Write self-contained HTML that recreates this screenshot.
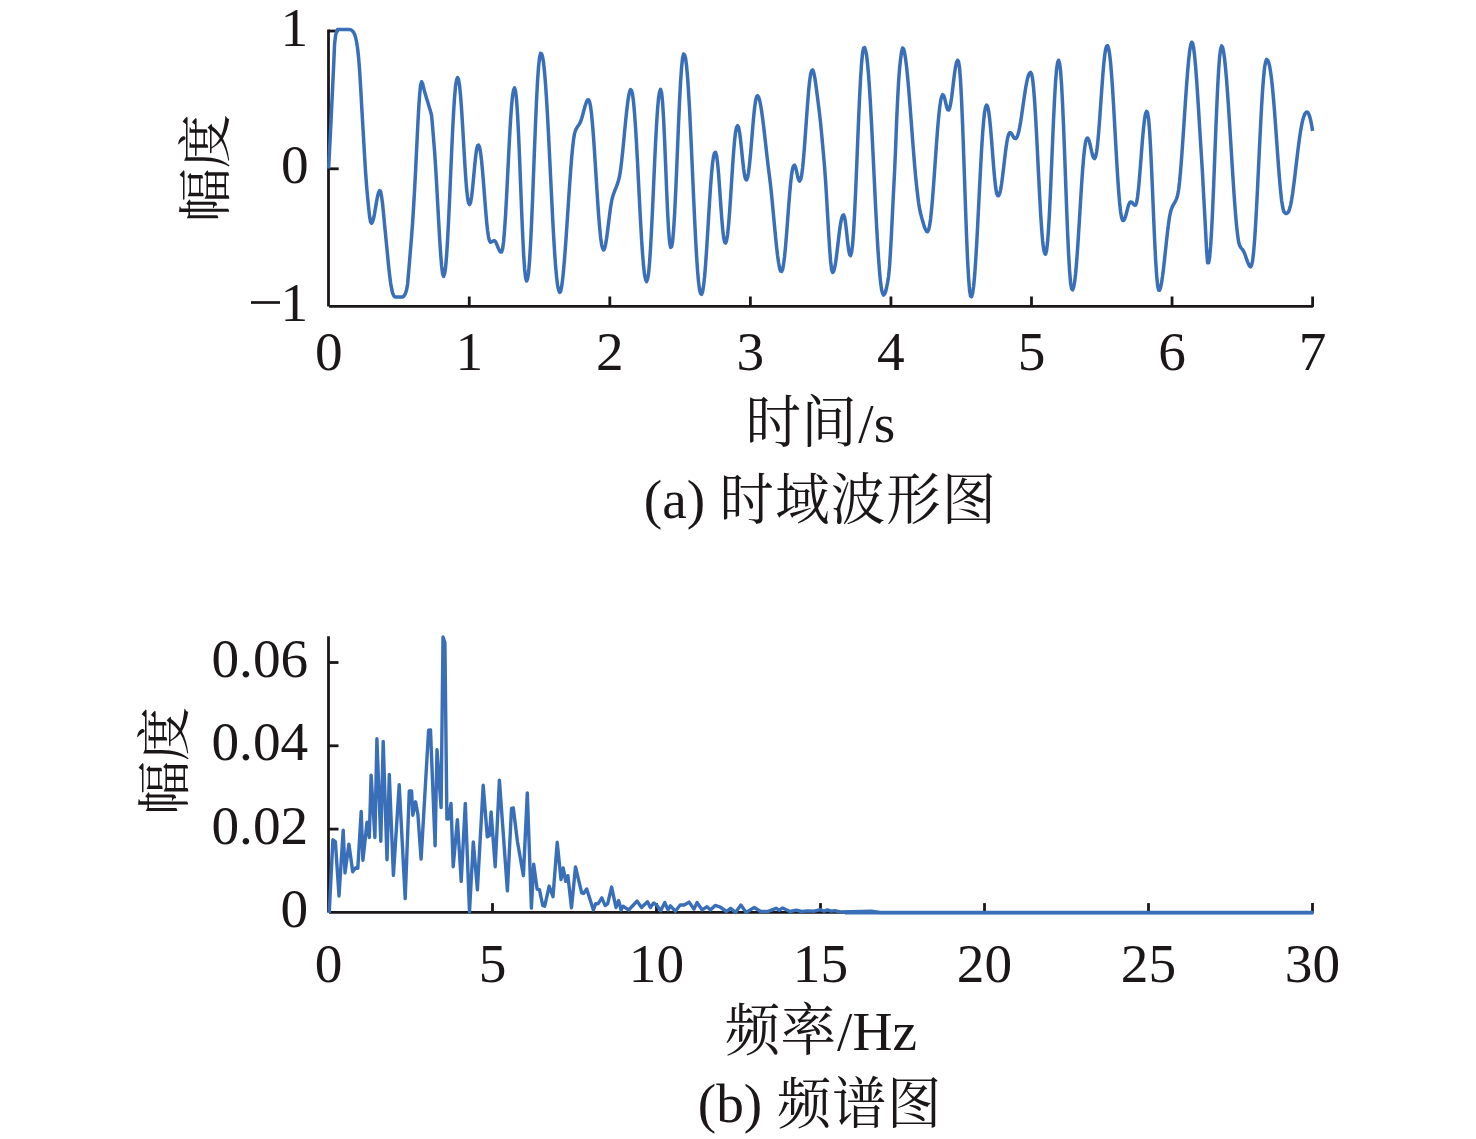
<!DOCTYPE html>
<html><head><meta charset="utf-8"><title>chart</title>
<style>
html,body{margin:0;padding:0;background:#fff;}
svg{display:block;}
text{font-family:"Liberation Serif","Noto Serif CJK SC",serif;fill:#1b1718;}
</style></head>
<body>
<svg width="1476" height="1139" viewBox="0 0 1476 1139">
<rect width="1476" height="1139" fill="#ffffff"/>
<path d="M328.5,29.60 V306.60" fill="none" stroke="#1b1718" stroke-width="2.8"/>
<path d="M329.1,306.40 H1312.6 V296.50" fill="none" stroke="#1b1718" stroke-width="2.8" stroke-linejoin="bevel"/>
<path d="M469.26,306.5 v-10.0" stroke="#1b1718" stroke-width="2.8"/>
<path d="M609.81,306.5 v-10.0" stroke="#1b1718" stroke-width="2.8"/>
<path d="M750.37,306.5 v-10.0" stroke="#1b1718" stroke-width="2.8"/>
<path d="M890.93,306.5 v-10.0" stroke="#1b1718" stroke-width="2.8"/>
<path d="M1031.49,306.5 v-10.0" stroke="#1b1718" stroke-width="2.8"/>
<path d="M1172.04,306.5 v-10.0" stroke="#1b1718" stroke-width="2.8"/>
<path d="M328.7,31.0 h10.0" stroke="#1b1718" stroke-width="2.8"/>
<path d="M328.7,168.8 h10.0" stroke="#1b1718" stroke-width="2.8"/>
<text transform="translate(328.70,370.20) scale(1,1.012)" text-anchor="middle" font-size="55.3">0</text>
<text transform="translate(469.26,370.20) scale(1,1.012)" text-anchor="middle" font-size="55.3">1</text>
<text transform="translate(609.81,370.20) scale(1,1.012)" text-anchor="middle" font-size="55.3">2</text>
<text transform="translate(750.37,370.20) scale(1,1.012)" text-anchor="middle" font-size="55.3">3</text>
<text transform="translate(890.93,370.20) scale(1,1.012)" text-anchor="middle" font-size="55.3">4</text>
<text transform="translate(1031.49,370.20) scale(1,1.012)" text-anchor="middle" font-size="55.3">5</text>
<text transform="translate(1172.04,370.20) scale(1,1.012)" text-anchor="middle" font-size="55.3">6</text>
<text transform="translate(1312.60,370.20) scale(1,1.012)" text-anchor="middle" font-size="55.3">7</text>
<text transform="translate(308.20,46.00) scale(1,1.012)" text-anchor="end" font-size="55.3">1</text>
<text transform="translate(308.70,183.10) scale(1,1.012)" text-anchor="end" font-size="55.3">0</text>
<text transform="translate(308.20,320.90) scale(1,1.012)" text-anchor="end" font-size="55.3">1</text>
<rect x="251.0" y="301.15" width="29.0" height="2.7" fill="#1b1718"/>
<path d="M328.6,168.5 L329.6,149.1 L330.6,129.1 L331.6,108.6 L332.6,87.7 L333.6,66.4 L334.6,43.7 L335.6,35.2 L336.6,31.6 L337.6,29.6 L338.6,29.5 L339.6,29.5 L340.6,29.5 L341.6,29.5 L342.6,29.5 L343.6,29.5 L344.6,29.5 L345.6,29.5 L346.6,29.5 L347.6,29.5 L348.6,29.5 L349.6,29.6 L350.6,29.8 L351.6,30.3 L352.6,31.1 L353.6,32.3 L354.6,34.4 L355.6,37.5 L356.6,42.1 L357.6,48.5 L358.6,57.8 L359.6,70.4 L360.6,86.7 L361.6,104.6 L362.6,122.0 L363.6,138.9 L364.6,156.4 L365.6,172.7 L366.6,185.8 L367.6,196.9 L368.6,207.6 L369.6,216.4 L370.6,222.1 L371.6,223.2 L372.6,221.7 L373.6,218.3 L374.6,213.3 L375.6,207.4 L376.6,201.4 L377.6,196.2 L378.6,192.5 L379.6,190.7 L380.6,191.3 L381.6,196.7 L382.6,203.9 L383.6,214.4 L384.6,225.2 L385.6,235.2 L386.6,245.3 L387.6,255.6 L388.6,266.0 L389.6,275.0 L390.6,282.7 L391.6,288.5 L392.6,293.0 L393.6,295.4 L394.6,296.8 L395.6,297.1 L396.6,297.1 L397.6,297.1 L398.6,297.1 L399.6,297.1 L400.6,297.1 L401.6,297.1 L402.6,297.1 L403.6,296.4 L404.6,295.0 L405.6,293.1 L406.6,289.8 L407.6,284.0 L408.6,272.5 L409.6,260.7 L410.6,248.3 L411.6,236.1 L412.6,222.7 L413.6,206.6 L414.6,189.7 L415.6,170.4 L416.6,149.6 L417.6,129.0 L418.6,110.3 L419.6,95.1 L420.6,85.0 L421.6,81.7 L422.6,83.6 L423.6,87.6 L424.6,91.8 L425.6,95.1 L426.6,98.4 L427.6,101.6 L428.6,104.9 L429.6,108.2 L430.6,111.6 L431.6,115.5 L432.6,126.8 L433.6,139.3 L434.6,151.7 L435.6,166.5 L436.6,183.6 L437.6,201.9 L438.6,220.4 L439.6,237.9 L440.6,253.4 L441.6,265.7 L442.6,273.7 L443.6,276.4 L444.6,273.7 L445.6,267.2 L446.6,255.6 L447.6,239.6 L448.6,220.3 L449.6,198.5 L450.6,175.5 L451.6,152.5 L452.6,131.0 L453.6,112.1 L454.6,96.6 L455.6,85.5 L456.6,79.7 L457.6,77.5 L458.6,79.8 L459.6,85.9 L460.6,96.1 L461.6,109.7 L462.6,125.8 L463.6,143.0 L464.6,160.2 L465.6,175.8 L466.6,188.8 L467.6,198.1 L468.6,203.1 L469.6,204.6 L470.6,202.5 L471.6,196.8 L472.6,188.1 L473.6,177.5 L474.6,166.5 L475.6,156.7 L476.6,149.5 L477.6,145.6 L478.6,145.1 L479.6,147.3 L480.6,152.8 L481.6,161.1 L482.6,171.7 L483.6,184.0 L484.6,196.9 L485.6,209.7 L486.6,221.3 L487.6,230.7 L488.6,237.6 L489.6,241.1 L490.6,242.2 L491.6,241.9 L492.6,241.2 L493.6,240.7 L494.6,240.8 L495.6,241.8 L496.6,243.8 L497.6,246.3 L498.6,248.8 L499.6,250.9 L500.6,252.1 L501.6,252.1 L502.6,248.9 L503.6,241.4 L504.6,229.7 L505.6,214.4 L506.6,196.1 L507.6,176.2 L508.6,156.0 L509.6,136.7 L510.6,119.5 L511.6,105.3 L512.6,95.2 L513.6,89.8 L514.6,87.9 L515.6,91.3 L516.6,100.4 L517.6,115.3 L518.6,135.3 L519.6,158.9 L520.6,184.6 L521.6,210.2 L522.6,233.8 L523.6,253.8 L524.6,268.7 L525.6,277.7 L526.6,281.0 L527.6,278.7 L528.6,272.4 L529.6,260.1 L530.6,243.0 L531.6,222.1 L532.6,198.1 L533.6,172.3 L534.6,146.3 L535.6,121.5 L536.6,99.0 L537.6,80.2 L538.6,66.2 L539.6,57.2 L540.6,53.2 L541.6,53.7 L542.6,57.1 L543.6,63.0 L544.6,72.8 L545.6,85.1 L546.6,100.2 L547.6,117.5 L548.6,136.4 L549.6,156.6 L550.6,177.2 L551.6,197.7 L552.6,217.3 L553.6,235.8 L554.6,252.0 L555.6,266.2 L556.6,277.1 L557.6,285.6 L558.6,289.9 L559.6,292.4 L560.6,291.4 L561.6,287.0 L562.6,279.6 L563.6,269.8 L564.6,258.0 L565.6,244.6 L566.6,230.2 L567.6,215.2 L568.6,200.0 L569.6,185.2 L570.6,171.3 L571.6,158.6 L572.6,147.7 L573.6,139.1 L574.6,133.2 L575.6,130.2 L576.6,128.2 L577.6,126.6 L578.6,125.2 L579.6,123.6 L580.6,121.6 L581.6,118.7 L582.6,115.3 L583.6,111.5 L584.6,107.7 L585.6,104.3 L586.6,101.6 L587.6,99.9 L588.6,99.7 L589.6,101.9 L590.6,106.7 L591.6,114.6 L592.6,125.5 L593.6,138.4 L594.6,153.1 L595.6,168.9 L596.6,184.9 L597.6,200.4 L598.6,214.8 L599.6,227.2 L600.6,237.2 L601.6,244.6 L602.6,248.4 L603.6,250.0 L604.6,248.5 L605.6,244.3 L606.6,238.2 L607.6,230.8 L608.6,222.7 L609.6,214.6 L610.6,207.2 L611.6,201.2 L612.6,197.0 L613.6,193.8 L614.6,191.1 L615.6,188.6 L616.6,186.2 L617.6,183.4 L618.6,180.1 L619.6,175.9 L620.6,169.6 L621.6,161.6 L622.6,152.2 L623.6,142.1 L624.6,131.6 L625.6,121.3 L626.6,111.7 L627.6,103.2 L628.6,96.3 L629.6,91.6 L630.6,89.5 L631.6,90.7 L632.6,94.5 L633.6,102.7 L634.6,113.8 L635.6,128.3 L636.6,145.2 L637.6,163.8 L638.6,183.6 L639.6,203.3 L640.6,222.1 L641.6,239.6 L642.6,254.5 L643.6,266.3 L644.6,275.2 L645.6,279.7 L646.6,281.6 L647.6,279.2 L648.6,273.3 L649.6,262.2 L650.6,246.9 L651.6,228.5 L652.6,207.6 L653.6,185.3 L654.6,163.1 L655.6,142.2 L656.6,123.8 L657.6,108.6 L658.6,97.6 L659.6,91.7 L660.6,89.4 L661.6,92.7 L662.6,102.6 L663.6,118.9 L664.6,140.3 L665.6,164.6 L666.6,189.3 L667.6,211.9 L668.6,230.1 L669.6,242.4 L670.6,247.4 L671.6,246.6 L672.6,241.4 L673.6,230.0 L674.6,213.8 L675.6,193.7 L676.6,170.8 L677.6,146.5 L678.6,122.3 L679.6,100.2 L680.6,81.4 L681.6,67.1 L682.6,57.8 L683.6,54.0 L684.6,54.8 L685.6,58.6 L686.6,66.3 L687.6,77.7 L688.6,92.8 L689.6,110.4 L690.6,130.7 L691.6,152.3 L692.6,174.8 L693.6,197.4 L694.6,218.9 L695.6,239.1 L696.6,256.5 L697.6,271.3 L698.6,282.6 L699.6,289.9 L700.6,293.6 L701.6,294.3 L702.6,291.6 L703.6,285.6 L704.6,276.5 L705.6,264.3 L706.6,249.7 L707.6,233.8 L708.6,217.2 L709.6,201.0 L710.6,186.0 L711.6,173.2 L712.6,163.1 L713.6,156.0 L714.6,152.9 L715.6,152.4 L716.6,155.6 L717.6,163.2 L718.6,174.2 L719.6,187.8 L720.6,202.4 L721.6,216.5 L722.6,228.6 L723.6,237.4 L724.6,242.1 L725.6,243.1 L726.6,240.6 L727.6,234.2 L728.6,224.5 L729.6,211.9 L730.6,197.2 L731.6,181.5 L732.6,166.1 L733.6,152.0 L734.6,140.3 L735.6,131.8 L736.6,127.2 L737.6,125.7 L738.6,127.4 L739.6,132.5 L740.6,140.3 L741.6,149.9 L742.6,159.8 L743.6,168.8 L744.6,175.6 L745.6,179.3 L746.6,179.9 L747.6,177.7 L748.6,172.2 L749.6,163.8 L750.6,153.2 L751.6,141.2 L752.6,128.9 L753.6,117.4 L754.6,107.7 L755.6,100.7 L756.6,96.8 L757.6,95.7 L758.6,97.0 L759.6,100.2 L760.6,105.0 L761.6,111.1 L762.6,118.3 L763.6,126.3 L764.6,134.8 L765.6,143.7 L766.6,152.6 L767.6,161.4 L768.6,169.6 L769.6,177.2 L770.6,185.6 L771.6,195.2 L772.6,205.5 L773.6,216.3 L774.6,227.0 L775.6,237.4 L776.6,247.1 L777.6,255.7 L778.6,262.8 L779.6,268.1 L780.6,271.1 L781.6,271.5 L782.6,269.4 L783.6,264.1 L784.6,256.2 L785.6,245.8 L786.6,233.6 L787.6,220.3 L788.6,207.0 L789.6,194.4 L790.6,183.4 L791.6,174.6 L792.6,168.5 L793.6,165.7 L794.6,165.2 L795.6,167.3 L796.6,171.4 L797.6,176.2 L798.6,179.8 L799.6,181.1 L800.6,179.6 L801.6,175.5 L802.6,168.0 L803.6,157.6 L804.6,145.0 L805.6,131.2 L806.6,116.9 L807.6,103.3 L808.6,91.1 L809.6,81.2 L810.6,74.2 L811.6,70.7 L812.6,69.8 L813.6,72.0 L814.6,76.6 L815.6,82.9 L816.6,90.4 L817.6,98.3 L818.6,106.0 L819.6,114.1 L820.6,123.4 L821.6,133.7 L822.6,144.6 L823.6,155.9 L824.6,167.4 L825.6,181.3 L826.6,197.6 L827.6,215.2 L828.6,232.5 L829.6,248.2 L830.6,261.0 L831.6,269.6 L832.6,272.5 L833.6,271.4 L834.6,268.0 L835.6,262.5 L836.6,255.3 L837.6,247.0 L838.6,238.4 L839.6,230.3 L840.6,223.4 L841.6,218.3 L842.6,215.6 L843.6,214.8 L844.6,217.3 L845.6,223.4 L846.6,232.1 L847.6,241.6 L848.6,249.6 L849.6,254.5 L850.6,255.6 L851.6,252.2 L852.6,244.3 L853.6,231.2 L854.6,213.4 L855.6,192.0 L856.6,168.4 L857.6,143.7 L858.6,119.4 L859.6,97.0 L860.6,77.9 L861.6,63.0 L862.6,52.7 L863.6,48.1 L864.6,47.6 L865.6,50.5 L866.6,55.3 L867.6,64.4 L868.6,75.7 L869.6,90.2 L870.6,106.6 L871.6,125.3 L872.6,145.0 L873.6,165.7 L874.6,186.4 L875.6,206.8 L876.6,226.0 L877.6,243.8 L878.6,259.2 L879.6,272.3 L880.6,282.6 L881.6,289.7 L882.6,293.4 L883.6,295.1 L884.6,294.1 L885.6,291.5 L886.6,287.5 L887.6,282.3 L888.6,276.2 L889.6,265.9 L890.6,249.3 L891.6,231.2 L892.6,210.2 L893.6,190.4 L894.6,171.3 L895.6,148.2 L896.6,122.0 L897.6,100.0 L898.6,81.4 L899.6,68.2 L900.6,58.9 L901.6,51.5 L902.6,48.0 L903.6,49.0 L904.6,52.8 L905.6,58.9 L906.6,67.1 L907.6,76.9 L908.6,88.2 L909.6,100.4 L910.6,113.3 L911.6,126.5 L912.6,139.8 L913.6,152.7 L914.6,165.0 L915.6,176.2 L916.6,186.1 L917.6,194.7 L918.6,202.8 L919.6,209.0 L920.6,213.5 L921.6,217.2 L922.6,220.7 L923.6,224.3 L924.6,227.5 L925.6,229.7 L926.6,231.4 L927.6,231.8 L928.6,229.8 L929.6,225.7 L930.6,218.7 L931.6,209.2 L932.6,197.8 L933.6,184.7 L934.6,170.6 L935.6,156.3 L936.6,142.2 L937.6,129.1 L938.6,117.6 L939.6,108.0 L940.6,100.9 L941.6,96.7 L942.6,94.7 L943.6,95.2 L944.6,98.0 L945.6,102.3 L946.6,106.7 L947.6,109.6 L948.6,110.0 L949.6,108.3 L950.6,103.9 L951.6,97.5 L952.6,89.5 L953.6,81.0 L954.6,73.1 L955.6,66.5 L956.6,62.1 L957.6,60.3 L958.6,61.8 L959.6,68.2 L960.6,81.7 L961.6,101.0 L962.6,124.8 L963.6,152.1 L964.6,181.2 L965.6,210.2 L966.6,237.0 L967.6,260.1 L968.6,278.2 L969.6,290.7 L970.6,296.1 L971.6,296.6 L972.6,293.3 L973.6,286.5 L974.6,276.0 L975.6,261.9 L976.6,245.3 L977.6,226.7 L978.6,206.8 L979.6,186.7 L980.6,167.3 L981.6,149.3 L982.6,133.8 L983.6,121.3 L984.6,112.0 L985.6,107.1 L986.6,105.0 L987.6,106.4 L988.6,110.8 L989.6,118.4 L990.6,128.6 L991.6,140.7 L992.6,153.7 L993.6,166.4 L994.6,177.8 L995.6,186.9 L996.6,193.1 L997.6,195.7 L998.6,195.8 L999.6,193.9 L1000.6,189.8 L1001.6,183.8 L1002.6,176.3 L1003.6,167.9 L1004.6,159.3 L1005.6,151.0 L1006.6,143.8 L1007.6,138.2 L1008.6,134.4 L1009.6,132.8 L1010.6,132.8 L1011.6,133.8 L1012.6,135.5 L1013.6,137.2 L1014.6,138.3 L1015.6,138.6 L1016.6,137.7 L1017.6,135.7 L1018.6,132.3 L1019.6,127.6 L1020.6,122.0 L1021.6,115.5 L1022.6,108.6 L1023.6,101.6 L1024.6,94.7 L1025.6,88.3 L1026.6,82.8 L1027.6,78.3 L1028.6,74.9 L1029.6,73.1 L1030.6,72.3 L1031.6,74.1 L1032.6,78.8 L1033.6,88.2 L1034.6,101.0 L1035.6,116.9 L1036.6,135.3 L1037.6,155.2 L1038.6,175.4 L1039.6,195.0 L1040.6,213.1 L1041.6,228.4 L1042.6,240.5 L1043.6,249.2 L1044.6,253.2 L1045.6,254.1 L1046.6,250.5 L1047.6,241.8 L1048.6,228.1 L1049.6,210.1 L1050.6,188.6 L1051.6,165.1 L1052.6,141.3 L1053.6,118.4 L1054.6,98.0 L1055.6,81.1 L1056.6,69.0 L1057.6,62.5 L1058.6,60.2 L1059.6,63.4 L1060.6,71.3 L1061.6,85.3 L1062.6,104.5 L1063.6,127.6 L1064.6,153.4 L1065.6,180.6 L1066.6,207.6 L1067.6,232.6 L1068.6,254.1 L1069.6,271.1 L1070.6,283.2 L1071.6,288.7 L1072.6,289.9 L1073.6,287.4 L1074.6,282.2 L1075.6,273.7 L1076.6,262.2 L1077.6,248.5 L1078.6,233.2 L1079.6,216.8 L1080.6,200.4 L1081.6,184.6 L1082.6,170.2 L1083.6,158.0 L1084.6,148.5 L1085.6,141.8 L1086.6,138.7 L1087.6,138.0 L1088.6,139.4 L1089.6,142.5 L1090.6,146.8 L1091.6,151.4 L1092.6,155.3 L1093.6,157.9 L1094.6,158.6 L1095.6,156.7 L1096.6,152.0 L1097.6,144.1 L1098.6,133.2 L1099.6,120.2 L1100.6,106.0 L1101.6,91.6 L1102.6,77.8 L1103.6,65.7 L1104.6,56.0 L1105.6,49.2 L1106.6,46.1 L1107.6,45.7 L1108.6,48.4 L1109.6,53.9 L1110.6,62.9 L1111.6,75.0 L1112.6,89.4 L1113.6,105.9 L1114.6,123.6 L1115.6,141.6 L1116.6,159.3 L1117.6,175.9 L1118.6,190.4 L1119.6,202.7 L1120.6,211.8 L1121.6,217.6 L1122.6,220.4 L1123.6,220.5 L1124.6,219.0 L1125.6,216.2 L1126.6,212.5 L1127.6,208.6 L1128.6,205.1 L1129.6,202.8 L1130.6,201.9 L1131.6,202.1 L1132.6,203.1 L1133.6,204.4 L1134.6,205.3 L1135.6,205.1 L1136.6,202.6 L1137.6,196.7 L1138.6,187.8 L1139.6,176.6 L1140.6,163.9 L1141.6,150.8 L1142.6,138.2 L1143.6,127.4 L1144.6,118.9 L1145.6,113.4 L1146.6,111.3 L1147.6,112.9 L1148.6,119.0 L1149.6,131.2 L1150.6,148.4 L1151.6,169.5 L1152.6,192.8 L1153.6,216.7 L1154.6,239.5 L1155.6,259.3 L1156.6,275.0 L1157.6,285.6 L1158.6,290.0 L1159.6,290.2 L1160.6,287.4 L1161.6,282.4 L1162.6,275.7 L1163.6,267.7 L1164.6,258.8 L1165.6,249.4 L1166.6,240.1 L1167.6,231.2 L1168.6,223.2 L1169.6,216.5 L1170.6,211.6 L1171.6,208.5 L1172.6,206.2 L1173.6,204.4 L1174.6,202.7 L1175.6,200.9 L1176.6,198.6 L1177.6,195.4 L1178.6,189.8 L1179.6,181.4 L1180.6,170.6 L1181.6,157.9 L1182.6,143.9 L1183.6,129.1 L1184.6,114.0 L1185.6,99.1 L1186.6,84.8 L1187.6,71.8 L1188.6,60.6 L1189.6,51.5 L1190.6,45.2 L1191.6,42.2 L1192.6,43.0 L1193.6,47.7 L1194.6,55.8 L1195.6,66.6 L1196.6,79.7 L1197.6,94.5 L1198.6,110.4 L1199.6,126.8 L1200.6,143.2 L1201.6,159.0 L1202.6,175.4 L1203.6,194.3 L1204.6,212.5 L1205.6,231.2 L1206.6,250.5 L1207.6,262.8 L1208.6,262.8 L1209.6,257.7 L1210.6,246.4 L1211.6,230.5 L1212.6,210.2 L1213.6,186.7 L1214.6,161.1 L1215.6,135.3 L1216.6,110.8 L1217.6,88.7 L1218.6,70.3 L1219.6,56.9 L1220.6,49.2 L1221.6,45.9 L1222.6,47.3 L1223.6,51.8 L1224.6,59.0 L1225.6,68.7 L1226.6,80.4 L1227.6,93.8 L1228.6,108.4 L1229.6,124.0 L1230.6,140.0 L1231.6,156.2 L1232.6,172.1 L1233.6,187.5 L1234.6,201.8 L1235.6,214.8 L1236.6,226.0 L1237.6,235.1 L1238.6,241.7 L1239.6,245.4 L1240.6,247.2 L1241.6,248.5 L1242.6,249.7 L1243.6,251.3 L1244.6,253.5 L1245.6,256.2 L1246.6,259.1 L1247.6,261.9 L1248.6,264.3 L1249.6,266.1 L1250.6,266.8 L1251.6,265.2 L1252.6,260.9 L1253.6,252.1 L1254.6,240.1 L1255.6,224.7 L1256.6,206.7 L1257.6,187.0 L1258.6,166.0 L1259.6,145.1 L1260.6,125.0 L1261.6,106.2 L1262.6,90.2 L1263.6,77.2 L1264.6,67.3 L1265.6,62.0 L1266.6,59.4 L1267.6,60.1 L1268.6,62.2 L1269.6,66.1 L1270.6,72.0 L1271.6,79.6 L1272.6,89.0 L1273.6,100.1 L1274.6,112.4 L1275.6,125.9 L1276.6,139.9 L1277.6,154.0 L1278.6,167.5 L1279.6,180.2 L1280.6,191.0 L1281.6,200.2 L1282.6,206.5 L1283.6,211.0 L1284.6,212.7 L1285.6,213.4 L1286.6,213.4 L1287.6,212.8 L1288.6,211.6 L1289.6,208.8 L1290.6,205.1 L1291.6,199.7 L1292.6,193.5 L1293.6,186.1 L1294.6,178.2 L1295.6,169.7 L1296.6,161.3 L1297.6,152.9 L1298.6,145.0 L1299.6,137.6 L1300.6,131.1 L1301.6,125.4 L1302.6,120.7 L1303.6,117.1 L1304.6,114.3 L1305.6,112.9 L1306.6,112.0 L1307.6,112.2 L1308.6,113.7 L1309.6,116.3 L1310.6,120.1 L1311.6,124.9 L1312.6,130.9" fill="none" stroke="#396fb8" stroke-width="3.5" stroke-linejoin="round" stroke-linecap="butt"/>
<path d="M328.5,636.2 V912.60" fill="none" stroke="#1b1718" stroke-width="2.8"/>
<path d="M329.1,912.4 H1312.5 V903.10" fill="none" stroke="#1b1718" stroke-width="2.8" stroke-linejoin="bevel"/>
<path d="M492.50,912.4 v-9.3" stroke="#1b1718" stroke-width="2.8"/>
<path d="M656.50,912.4 v-9.3" stroke="#1b1718" stroke-width="2.8"/>
<path d="M820.50,912.4 v-9.3" stroke="#1b1718" stroke-width="2.8"/>
<path d="M984.50,912.4 v-9.3" stroke="#1b1718" stroke-width="2.8"/>
<path d="M1148.50,912.4 v-9.3" stroke="#1b1718" stroke-width="2.8"/>
<path d="M328.5,829.10 h10.0" stroke="#1b1718" stroke-width="2.8"/>
<path d="M328.5,745.80 h10.0" stroke="#1b1718" stroke-width="2.8"/>
<path d="M328.5,662.50 h10.0" stroke="#1b1718" stroke-width="2.8"/>
<text transform="translate(328.50,982.00) scale(1,1.012)" text-anchor="middle" font-size="55.3">0</text>
<text transform="translate(492.50,982.00) scale(1,1.012)" text-anchor="middle" font-size="55.3">5</text>
<text transform="translate(656.50,982.00) scale(1,1.012)" text-anchor="middle" font-size="55.3">10</text>
<text transform="translate(820.50,982.00) scale(1,1.012)" text-anchor="middle" font-size="55.3">15</text>
<text transform="translate(984.50,982.00) scale(1,1.012)" text-anchor="middle" font-size="55.3">20</text>
<text transform="translate(1148.50,982.00) scale(1,1.012)" text-anchor="middle" font-size="55.3">25</text>
<text transform="translate(1312.50,982.00) scale(1,1.012)" text-anchor="middle" font-size="55.3">30</text>
<text transform="translate(308.20,926.80) scale(1,1.012)" text-anchor="end" font-size="55.3">0</text>
<text transform="translate(308.20,843.50) scale(1,1.012)" text-anchor="end" font-size="55.3">0.02</text>
<text transform="translate(308.20,760.20) scale(1,1.012)" text-anchor="end" font-size="55.3">0.04</text>
<text transform="translate(308.20,676.90) scale(1,1.012)" text-anchor="end" font-size="55.3">0.06</text>
<path d="M329.2,913.0 L332.9,839.8 L335.4,841.9 L339.0,896.0 L343.2,830.1 L345.0,872.9 L348.9,844.1 L352.7,871.8 L355.5,868.0 L357.8,868.3 L361.2,811.4 L362.9,860.4 L367.0,822.2 L369.3,837.5 L371.1,775.1 L374.9,837.5 L376.9,738.8 L380.8,841.3 L383.2,741.4 L387.0,859.7 L389.3,774.5 L393.4,875.4 L399.2,784.6 L405.2,898.6 L409.3,791.0 L411.6,791.0 L412.8,815.2 L415.6,801.8 L417.9,814.5 L421.1,859.1 L428.6,730.3 L430.5,730.0 L435.1,845.7 L437.0,749.7 L441.1,807.6 L443.0,637.0 L444.9,642.5 L446.9,819.0 L448.5,819.0 L451.0,803.4 L453.2,866.7 L457.4,819.6 L461.2,881.4 L465.3,803.4 L469.5,912.0 L473.3,841.9 L477.4,889.9 L483.2,785.3 L487.3,836.8 L489.5,835.5 L491.1,812.0 L495.2,866.7 L499.4,780.2 L507.4,890.9 L511.5,808.5 L513.3,808.0 L517.4,841.3 L523.4,875.7 L527.3,792.9 L531.4,908.1 L533.7,864.2 L537.1,889.0 L539.4,889.7 L542.8,905.6 L544.7,906.2 L549.2,886.1 L553.0,896.7 L557.2,842.3 L561.0,879.5 L563.2,868.0 L565.7,881.4 L567.9,875.7 L571.5,907.7 L575.5,867.0 L581.7,892.8 L583.6,893.5 L586.7,889.0 L593.4,910.0 L595.7,903.7 L598.2,903.7 L601.8,897.9 L605.2,905.6 L607.7,903.7 L611.6,887.1 L616.0,907.5 L618.6,900.5 L621.1,910.0 L623.0,906.2 L628.7,910.0 L637.0,901.1 L641.5,907.5 L647.5,901.7 L650.4,907.5 L653.6,903.0 L656.6,905.0 L660.7,910.7 L664.8,902.6 L668.0,909.9 L670.4,905.9 L675.3,911.2 L680.2,905.0 L684.3,905.0 L689.1,902.1 L694.0,909.1 L697.0,902.6 L702.2,909.9 L707.0,906.7 L710.3,909.9 L715.2,905.4 L720.0,907.0 L726.5,911.5 L730.6,908.3 L735.5,912.4 L740.9,905.0 L746.1,912.4 L754.2,907.5 L760.7,911.5 L768.8,911.2 L776.1,908.3 L779.4,910.2 L782.6,908.0 L790.0,911.5 L796.5,910.2 L801.3,911.5 L807.8,910.9 L814.3,911.2 L820.4,909.6 L824.1,911.2 L827.4,909.9 L831.4,911.2 L834.7,910.6 L840.4,912.0 L871.3,911.2 L880.0,912.5 L1312.5,912.5" fill="none" stroke="#396fb8" stroke-width="3.4" stroke-linejoin="round" stroke-linecap="butt"/>
<path d="M845,912.7 H1313.6" fill="none" stroke="#396fb8" stroke-width="3.6" stroke-linecap="butt"/>
<text transform="translate(745.60,442.40) scale(1,1.015)" font-size="55.6">时间</text>
<text transform="translate(876.80,441.50) scale(1,1.012)" text-anchor="middle" font-size="55.3">/s</text>
<text transform="translate(674.50,517.60) scale(1,1.012)" text-anchor="middle" font-size="55.3">(a)</text>
<text transform="translate(719.60,518.50) scale(1,1.018)" font-size="54.3" textLength="276.5" lengthAdjust="spacing">时域波形图</text>
<text transform="translate(224.90,222.30) rotate(-90)" font-size="54">幅度</text>
<text transform="translate(184.20,815.00) rotate(-90)" font-size="54">幅度</text>
<text transform="translate(724.80,1049.80) scale(1,1.015)" font-size="55.6">频率</text>
<text transform="translate(877.00,1050.00) scale(1,1.012)" text-anchor="middle" font-size="55.3">/Hz</text>
<text transform="translate(730.00,1122.40) scale(1,1.012)" text-anchor="middle" font-size="55.3">(b)</text>
<text transform="translate(777.00,1122.90) scale(1,1.018)" font-size="54.3" textLength="164.3" lengthAdjust="spacing">频谱图</text>
</svg>
</body></html>
